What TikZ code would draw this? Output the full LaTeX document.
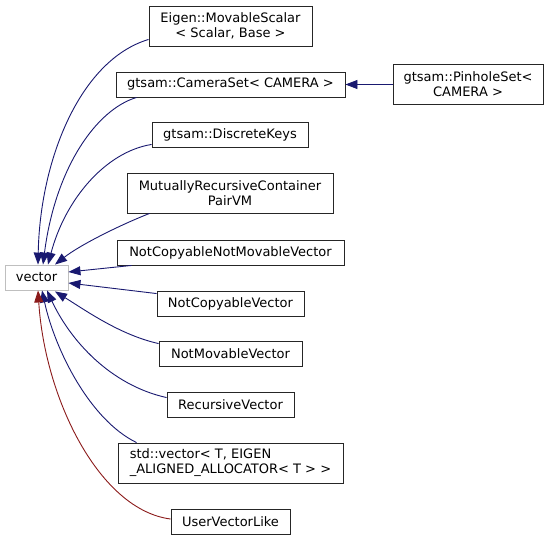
\documentclass[tikz,border=0pt]{standalone}
\usepackage{fontspec}
\setmainfont{DejaVu Sans}
\usetikzlibrary{arrows.meta}
\definecolor{edgeblue}{HTML}{191970}
\definecolor{edgered}{HTML}{8B1A1A}
\definecolor{greyborder}{HTML}{BFBFBF}
\tikzset{
  classbox/.style={draw=black!85, line width=0.9pt, fill=white, inner sep=0pt,
    align=center, font=\fontsize{13}{15}\selectfont, text=black},
  rootbox/.style={classbox, draw=greyborder},
  inherit/.style={draw=edgeblue, line width=0.9pt,
    -{Triangle[length=12pt,width=9pt]}, color=edgeblue},
  inheritred/.style={inherit, draw=edgered, color=edgered},
}
\begin{document}
\begin{tikzpicture}[x=1pt,y=-1pt]
\path[use as bounding box] (0,0) rectangle (549,541);

\node[rootbox, minimum width=63pt, minimum height=25pt] (vector) at (36.5,277.5) {vector};

\node[classbox, minimum width=163pt, minimum height=40pt] (eigen) at (230.5,26) {Eigen::MovableScalar\\< Scalar, Base >};
\node[classbox, minimum width=229pt, minimum height=25pt] (camset) at (230.5,84.5) {gtsam::CameraSet< CAMERA >};
\node[classbox, minimum width=156pt, minimum height=25pt] (disc) at (230,134.5) {gtsam::DiscreteKeys};
\node[classbox, minimum width=206pt, minimum height=40pt] (mrc) at (230,193) {MutuallyRecursiveContainer\\PairVM};
\node[classbox, minimum width=227pt, minimum height=25pt] (ncnmv) at (230.5,252.5) {NotCopyableNotMovableVector};
\node[classbox, minimum width=147pt, minimum height=25pt] (ncv) at (230.5,303.5) {NotCopyableVector};
\node[classbox, minimum width=143pt, minimum height=25pt] (nmv) at (230.5,353.5) {NotMovableVector};
\node[classbox, minimum width=127pt, minimum height=25pt] (rv) at (230.5,404.5) {RecursiveVector};
\node[classbox, minimum width=225pt, minimum height=40pt, align=left] (stdv) at (230.5,463) {std::vector< T, EIGEN\\\_ALIGNED\_ALLOCATOR< T > >};
\node[classbox, minimum width=119pt, minimum height=25pt] (uvl) at (230.5,521.5) {UserVectorLike};
\node[classbox, minimum width=150pt, minimum height=40pt] (pinhole) at (468,84.5) {gtsam::PinholeSet<\\CAMERA >};

% edges
\draw[inherit] ([yshift=7pt]eigen.south west) .. controls (80,60) and (40,160) .. ([xshift=1.5pt]vector.north);
\draw[inherit] ([xshift=21pt]camset.south west) .. controls (95,110) and (55,170) .. ([xshift=6.5pt]vector.north);
\draw[inherit] ([yshift=3pt]disc.south west) .. controls (105,152) and (65,200) .. ([xshift=11.5pt]vector.north);
\draw[inherit] ([xshift=23pt]mrc.south west) .. controls (120,225) and (80,245) .. ([xshift=18.5pt]vector.north);
\draw[inherit] ([xshift=15pt]ncnmv.south west) -- ([yshift=5.5pt]vector.east);
\draw[inherit] ([yshift=-3pt]ncv.north west) -- ([yshift=-5.5pt]vector.east);
\draw[inherit] ([yshift=-3pt]nmv.north west) .. controls (120,335) and (85,310) .. ([xshift=18.5pt,yshift=-1pt]vector.south);
\draw[inherit] ([yshift=-6pt]rv.north west) .. controls (110,385) and (70,340) .. ([xshift=10.5pt]vector.south);
\draw[inherit] ([xshift=19pt]stdv.north west) .. controls (90,420) and (55,350) .. ([xshift=5.5pt]vector.south);
\draw[inheritred] ([yshift=2.5pt]uvl.west) .. controls (100,510) and (45,400) .. ([xshift=1.5pt]vector.south);
\draw[inherit] (pinhole.west) -- (camset.east);
\end{tikzpicture}
\end{document}
